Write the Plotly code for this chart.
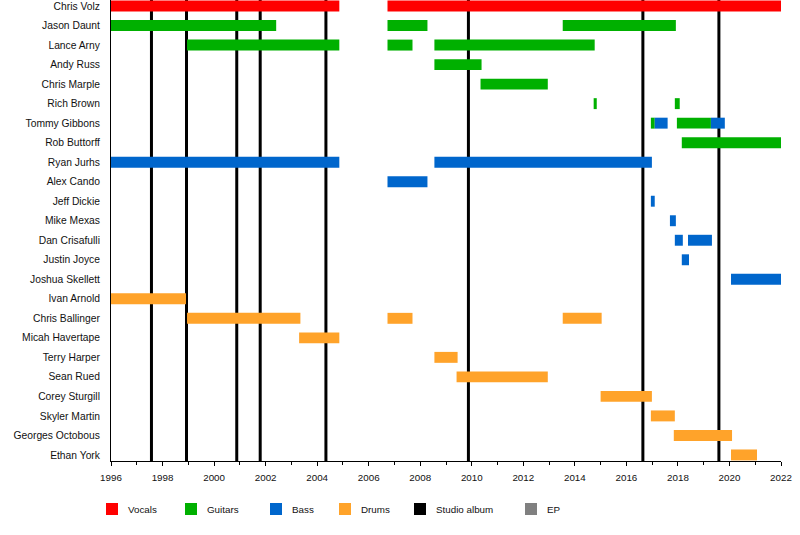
"""
Band member timeline: horizontal bars per member and role, black lines for studio albums.
"""

import plotly.graph_objects as go

# Members, top to bottom
members = [
    "Chris Volz", "Jason Daunt", "Lance Arny", "Andy Russ", "Chris Marple",
    "Rich Brown", "Tommy Gibbons", "Rob Buttorff", "Ryan Jurhs", "Alex Cando",
    "Jeff Dickie", "Mike Mexas", "Dan Crisafulli", "Justin Joyce", "Joshua Skellett",
    "Ivan Arnold", "Chris Ballinger", "Micah Havertape", "Terry Harper", "Sean Rued",
    "Corey Sturgill", "Skyler Martin", "Georges Octobous", "Ethan York",
]

# One entry per membership period (decimal years)
seg_member = [
    "Chris Volz", "Chris Volz",
    "Jason Daunt", "Jason Daunt", "Jason Daunt",
    "Lance Arny", "Lance Arny", "Lance Arny",
    "Andy Russ", "Chris Marple",
    "Rich Brown", "Rich Brown",
    "Tommy Gibbons", "Tommy Gibbons", "Tommy Gibbons", "Tommy Gibbons",
    "Rob Buttorff",
    "Ryan Jurhs", "Ryan Jurhs", "Alex Cando", "Jeff Dickie", "Mike Mexas",
    "Dan Crisafulli", "Dan Crisafulli", "Justin Joyce", "Joshua Skellett",
    "Ivan Arnold", "Chris Ballinger", "Chris Ballinger", "Chris Ballinger",
    "Micah Havertape", "Terry Harper", "Sean Rued", "Corey Sturgill",
    "Skyler Martin", "Georges Octobous", "Ethan York",
]
seg_start = [
    1996.0, 2006.73,
    1996.0, 2006.73, 2013.53,
    1998.95, 2006.73, 2008.55,
    2008.55, 2010.34,
    2014.73, 2017.88,
    2016.95, 2017.1, 2017.96, 2019.28,
    2018.15,
    1996.0, 2008.55, 2006.73, 2016.95, 2017.69,
    2017.88, 2018.39, 2018.15, 2020.06,
    1996.0, 1998.95, 2006.73, 2013.53,
    2003.3, 2008.55, 2009.41, 2015.0,
    2016.95, 2017.84, 2020.06,
]
seg_end = [
    2004.86, 2022.0,
    2002.41, 2008.28, 2017.92,
    2004.86, 2007.70, 2014.77,
    2010.38, 2012.95,
    2014.85, 2018.07,
    2017.1, 2017.6, 2019.28, 2019.82,
    2022.0,
    2004.86, 2016.99, 2008.28, 2017.1, 2017.92,
    2018.19, 2019.32, 2018.43, 2022.0,
    1998.91, 2003.35, 2007.70, 2015.04,
    2004.86, 2009.45, 2012.95, 2016.99,
    2017.88, 2020.1, 2021.07,
]
seg_role = [
    "Vocals", "Vocals",
    "Guitars", "Guitars", "Guitars",
    "Guitars", "Guitars", "Guitars",
    "Guitars", "Guitars",
    "Guitars", "Guitars",
    "Guitars", "Bass", "Guitars", "Bass",
    "Guitars",
    "Bass", "Bass", "Bass", "Bass", "Bass",
    "Bass", "Bass", "Bass", "Bass",
    "Drums", "Drums", "Drums", "Drums",
    "Drums", "Drums", "Drums", "Drums",
    "Drums", "Drums", "Drums",
]

studio_albums = [1997.57, 1998.93, 2000.88, 2001.79, 2004.34, 2009.87, 2016.64, 2019.59]
eps = []

legend_labels = ["Vocals", "Guitars", "Bass", "Drums", "Studio album", "EP"]
legend_colors = ["#ff0000", "#00b000", "#0066cc", "#ffa32a", "#000000", "#808080"]
role_colors = dict(zip(legend_labels, legend_colors))

FONT = "Liberation Sans, Arial, sans-serif"
W, H = 800, 535
ML, MR, MT, MB = 111, 19, 0, 74

fig = go.Figure()

for role in ["Vocals", "Guitars", "Bass", "Drums"]:
    idx = [i for i, r in enumerate(seg_role) if r == role]
    fig.add_trace(go.Bar(
        orientation="h",
        y=[seg_member[i] for i in idx],
        base=[seg_start[i] for i in idx],
        x=[seg_end[i] - seg_start[i] for i in idx],
        width=0.56,
        marker=dict(color=role_colors[role], line=dict(width=0)),
        name=role, showlegend=False, hoverinfo="skip",
    ))

for yr in studio_albums:
    fig.add_shape(type="line", xref="x", yref="paper", x0=yr, x1=yr, y0=0, y1=1,
                  line=dict(color=role_colors["Studio album"], width=3), layer="below")
for yr in eps:
    fig.add_shape(type="line", xref="x", yref="paper", x0=yr, x1=yr, y0=0, y1=1,
                  line=dict(color=role_colors["EP"], width=3), layer="below")

# legend drawn by hand below the axis (pixel positions converted to paper units)
pw, ph = W - ML - MR, H - MT - MB
legend_px = [106, 185, 270, 339, 414, 525]
for px, lab, col in zip(legend_px, legend_labels, legend_colors):
    x0 = (px - ML) / pw
    x1 = (px + 12 - ML) / pw
    y0 = (ph - 515) / ph
    y1 = (ph - 503) / ph
    fig.add_shape(type="rect", xref="paper", yref="paper", x0=x0, x1=x1, y0=y0, y1=y1,
                  fillcolor=col, line=dict(width=0))
    fig.add_annotation(xref="paper", yref="paper", x=(px + 20 - ML) / pw, y=(ph - 510) / ph,
                       text=lab, showarrow=False, xanchor="left", yanchor="middle",
                       font=dict(family=FONT, size=9.8, color="#111"))

fig.update_layout(
    width=W, height=H,
    margin=dict(l=ML, r=MR, t=MT, b=MB),
    barmode="overlay",
    plot_bgcolor="white", paper_bgcolor="white",
    showlegend=False,
    font=dict(family=FONT, size=10, color="#111"),
)
fig.update_xaxes(
    range=[1996, 2022], tick0=1996, dtick=2,
    ticks="outside", ticklen=4, tickcolor="black", tickwidth=1,
    minor=dict(dtick=1, ticks="outside", ticklen=3, tickcolor="black"),
    showline=True, linecolor="black", linewidth=1,
    showgrid=False, zeroline=False, automargin=False, ticklabelstandoff=3,
    tickfont=dict(family=FONT, size=9.8, color="#111"),
)
fig.update_yaxes(
    type="category", categoryorder="array", categoryarray=members,
    range=[len(members) - 1 + 0.31, -0.31],
    showline=True, linecolor="black", linewidth=1,
    showgrid=False, zeroline=False, ticks="", ticklabelstandoff=8, automargin=False,
    tickfont=dict(family=FONT, size=10.3, color="#111"),
)

# the page's default body margin would push the fixed-size figure off the window
fig.write_html("out.html", config={"displayModeBar": False},
               post_script="document.body.style.margin='0';")
